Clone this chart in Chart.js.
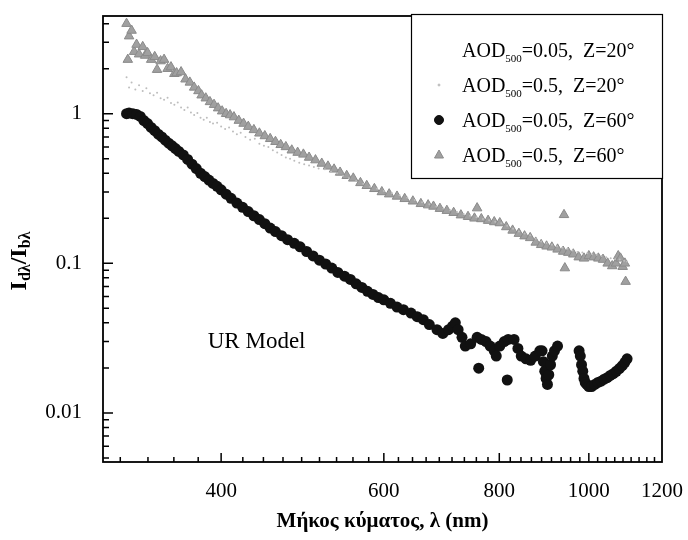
<!DOCTYPE html>
<html>
<head>
<meta charset="utf-8">
<script src="https://cdn.jsdelivr.net/npm/chart.js@4.4.1/dist/chart.umd.min.js"></script>
<style>
  html, body { margin: 0; padding: 0; background: #fff; }
  #wrap { width: 688px; height: 540px; }
</style>
</head>
<body>
<div id="wrap"><canvas id="chart" width="688" height="540"></canvas></div>
<script>
// wavelength (nm) / Idλ/Ibλ pairs

// AOD500=0.05, Z=20° (drawn white in the original, so not visible)
const wlClear  = [316, 350, 400, 450, 500, 600, 700, 800, 900, 1000, 1100];
const valClear = [0.55, 0.40, 0.25, 0.16, 0.11, 0.06, 0.038, 0.027, 0.02, 0.016, 0.014];

// AOD500=0.5, Z=20° (light grey dots)
const wlDots = [316, 318, 320, 323, 326, 329, 332, 335, 338, 341, 344, 347, 350, 353, 356, 359, 362, 365, 368, 371,
  374, 377, 380, 383, 386, 389, 392, 396, 400, 404, 408, 412, 416, 420, 425, 430, 435, 440, 445, 450,
  455, 460, 465, 470, 475, 480, 486, 492, 498, 504, 510, 518, 526, 534, 542, 550, 560, 570, 580, 590,
  600, 612, 624, 636, 648, 660, 672, 684, 696, 708, 720, 732, 744, 756, 768, 780, 792, 804, 816, 828,
  840, 852, 864, 876, 888, 900, 912, 924, 936, 948, 960, 972, 984, 996, 1008, 1020, 1032, 1044, 1056, 1068,
  1080, 1092, 1100];
const valDots = [1.75, 1.5, 1.62, 1.45, 1.55, 1.42, 1.48, 1.37, 1.33, 1.38, 1.27, 1.24, 1.28, 1.18, 1.15, 1.19, 1.1, 1.06, 1.1, 1.02,
  0.98, 1.01, 0.94, 0.91, 0.94, 0.88, 0.86, 0.87, 0.82, 0.79, 0.81, 0.76, 0.73, 0.745, 0.7, 0.67, 0.68, 0.63, 0.61, 0.6,
  0.57, 0.55, 0.53, 0.51, 0.5, 0.485, 0.47, 0.46, 0.45, 0.44, 0.43, 0.425, 0.41, 0.4, 0.385, 0.37, 0.355, 0.34, 0.325, 0.315,
  0.305, 0.295, 0.285, 0.275, 0.265, 0.256, 0.248, 0.24, 0.233, 0.226, 0.22, 0.214, 0.208, 0.203, 0.198, 0.194, 0.19, 0.185, 0.178, 0.17,
  0.163, 0.158, 0.154, 0.146, 0.14, 0.137, 0.133, 0.13, 0.127, 0.125, 0.122, 0.119, 0.118, 0.117, 0.115, 0.114, 0.112, 0.11, 0.108, 0.107,
  0.106, 0.104, 0.103];

// AOD500=0.05, Z=60° (black circles)
const wlCircles = [316, 318, 321, 324, 327, 330, 333, 336, 339, 342, 345, 348, 351, 354, 357, 360, 364, 368, 372, 376,
  380, 384, 388, 392, 396, 400, 405, 410, 416, 422, 428, 434, 440, 446, 452, 458, 465, 472, 480, 487,
  495, 503, 511, 519, 527, 535, 544, 552, 560, 568, 576, 584, 592, 600, 610, 620, 630, 642, 652, 662,
  672, 685, 695, 705, 712, 717, 722, 729, 735, 745, 757, 760, 765, 774, 782, 790, 794, 801, 810, 816,
  818, 830, 838, 845, 855, 865, 875, 885, 890, 893, 896, 899, 902, 905, 909, 913, 918, 925, 976, 979,
  982, 985, 988, 991, 995, 1000, 1007, 1015, 1023, 1031, 1039, 1047, 1055, 1063, 1071, 1079, 1087, 1094, 1100];
const valCircles = [1.0, 1.01, 1.0, 0.99, 0.96, 0.9, 0.86, 0.81, 0.77, 0.73, 0.70, 0.665, 0.635, 0.61, 0.585, 0.56, 0.53, 0.495, 0.46, 0.43,
  0.40, 0.38, 0.36, 0.342, 0.327, 0.31, 0.29, 0.272, 0.253, 0.237, 0.222, 0.208, 0.196, 0.184, 0.172, 0.163, 0.153, 0.144, 0.136, 0.129,
  0.12, 0.112, 0.105, 0.099, 0.093, 0.087, 0.082, 0.078, 0.073, 0.069, 0.065, 0.062, 0.059, 0.057, 0.054, 0.051, 0.049, 0.0465, 0.044, 0.042,
  0.039, 0.036, 0.034, 0.036, 0.038, 0.040, 0.036, 0.032, 0.028, 0.029, 0.032, 0.0199, 0.031, 0.030, 0.028, 0.026, 0.024, 0.028, 0.030, 0.0166,
  0.031, 0.031, 0.027, 0.024, 0.023, 0.0225, 0.024, 0.026, 0.026, 0.022, 0.019, 0.017, 0.0155, 0.018, 0.021, 0.024, 0.026, 0.028, 0.026, 0.024,
  0.021, 0.019, 0.017, 0.016, 0.0155, 0.015, 0.015, 0.0155, 0.016, 0.0163, 0.0168, 0.0172, 0.0178, 0.0183, 0.019, 0.0198, 0.0207, 0.0218, 0.023];

// AOD500=0.5, Z=60° (grey triangles)
const wlTriangles = [316, 318, 317, 320, 322, 324, 326, 329, 331, 333, 336, 339, 341, 344, 347, 350, 353, 356, 358, 362,
  366, 370, 374, 378, 381, 385, 389, 393, 397, 401, 405, 409, 413, 418, 423, 428, 434, 440, 446, 452,
  458, 464, 470, 477, 484, 491, 498, 506, 514, 522, 530, 538, 547, 556, 566, 575, 586, 597, 608, 620,
  632, 645, 658, 670, 679, 690, 702, 714, 727, 740, 752, 757, 765, 778, 790, 801, 814, 827, 840, 852,
  864, 876, 888, 900, 912, 925, 938, 940, 942, 950, 962, 975, 988, 1000, 1012, 1024, 1036, 1048, 1060, 1070,
  1076, 1082, 1088, 1094, 1096];
const valTriangles = [4.0, 3.3, 2.3, 3.6, 2.6, 2.9, 2.5, 2.8, 2.45, 2.55, 2.3, 2.4, 1.97, 2.25, 2.3, 2.0, 2.05, 1.85, 1.87, 1.9,
  1.7, 1.62, 1.5, 1.42, 1.33, 1.27, 1.2, 1.15, 1.09, 1.04, 1.0, 0.98, 0.95, 0.9, 0.86, 0.82, 0.78, 0.74, 0.71, 0.68,
  0.65, 0.62, 0.6, 0.57, 0.55, 0.535, 0.51, 0.49, 0.465, 0.445, 0.425, 0.405, 0.385, 0.37, 0.345, 0.33, 0.315, 0.30, 0.29, 0.28,
  0.27, 0.26, 0.25, 0.245, 0.24, 0.232, 0.225, 0.218, 0.21, 0.205, 0.2, 0.234, 0.198, 0.193, 0.189, 0.186, 0.175, 0.166, 0.158, 0.152,
  0.148, 0.138, 0.133, 0.13, 0.128, 0.124, 0.12, 0.211, 0.093, 0.118, 0.115, 0.11, 0.108, 0.112, 0.11, 0.108, 0.106, 0.1, 0.096, 0.1,
  0.112, 0.108, 0.095, 0.1, 0.0755];

// axes
const xRange = [298, 1200];
const yRange = [0.0047, 4.5];
const xMajorTicks = [400, 600, 800, 1000, 1200];
const xMinorSplit = 9;            // 8 minor ticks between labelled ticks
const yMajorTicks = [0.01, 0.1, 1];
const yMinorMults = [2, 3, 4, 5, 6, 7, 8, 9];

// legend text pieces: main, subscript, rest
const legendText = [
  ['AOD', '500', '=0.05,  Z=20°'],
  ['AOD', '500', '=0.5,  Z=20°'],
  ['AOD', '500', '=0.05,  Z=60°'],
  ['AOD', '500', '=0.5,  Z=60°']
];
const noteText = { text: 'UR Model', x: 437, y: 0.0299 };

const SERIF = "'Liberation Serif', 'Times New Roman', serif";

function pairs(xs, ys) {
  return xs.map((x, i) => ({ x: x, y: ys[i] }));
}

function buildXTicks() {
  const step = (xMajorTicks[1] - xMajorTicks[0]) / xMinorSplit;
  const out = [];
  for (let i = -xMinorSplit; i <= (xMajorTicks.length - 1) * xMinorSplit; i++) {
    const v = xMajorTicks[0] + i * step;
    if (v < xRange[0] || v > xRange[1]) continue;
    out.push({ value: v, major: i % xMinorSplit === 0 && i >= 0 });
  }
  return out;
}

function buildYTicks() {
  const out = [];
  [0.001].concat(yMajorTicks).forEach(dec => {
    [1].concat(yMinorMults).forEach(m => {
      const v = parseFloat((m * dec).toPrecision(3));
      if (v < yRange[0] || v > yRange[1]) return;
      out.push({ value: v, major: m === 1 && yMajorTicks.indexOf(v) >= 0 });
    });
  });
  return out;
}

const xTickList = buildXTicks();
const yTickList = buildYTicks();

// frame + inward tick marks
const frameTicks = {
  id: 'frameTicks',
  afterDraw(chart) {
    const c = chart.ctx, a = chart.chartArea;
    const sx = chart.scales.x, sy = chart.scales.y;
    c.save();
    c.strokeStyle = '#000';
    c.lineWidth = 1.8;
    c.strokeRect(a.left, a.top, a.right - a.left, a.bottom - a.top);
    c.lineWidth = 1.5;
    c.beginPath();
    xTickList.forEach(t => {
      const px = sx.getPixelForValue(t.value);
      if (px < a.left + 2 || px > a.right - 2) return;
      c.moveTo(px, a.bottom);
      c.lineTo(px, a.bottom - (t.major ? 9 : 5));
    });
    c.stroke();
    c.beginPath();
    yTickList.forEach(t => {
      const py = sy.getPixelForValue(t.value);
      if (py < a.top + 2 || py > a.bottom - 2) return;
      c.moveTo(a.left, py);
      c.lineTo(a.left + (t.major ? 10 : 6), py);
    });
    c.stroke();
    c.restore();
  }
};

// y title with subscripts, legend box, "UR Model" note
const extras = {
  id: 'extras',
  afterDraw(chart) {
    const c = chart.ctx, a = chart.chartArea;
    const sx = chart.scales.x, sy = chart.scales.y;
    c.save();
    c.fillStyle = '#000';

    // y axis title  I_dλ / I_bλ
    const big = 'bold 24px ' + SERIF, small = 'bold 16px ' + SERIF;
    const parts = [['I', big, 0], ['dλ', small, 6], ['/', big, 0], ['I', big, 0], ['bλ', small, 6]];
    let w = 0;
    parts.forEach(p => { c.font = p[1]; w += c.measureText(p[0]).width; });
    c.translate(20, (a.top + a.bottom) / 2 + 22);
    c.rotate(-Math.PI / 2);
    c.textBaseline = 'middle';
    let cx = -w / 2;
    parts.forEach(p => {
      c.font = p[1];
      c.fillText(p[0], cx, p[2]);
      cx += c.measureText(p[0]).width;
    });
    c.setTransform(1, 0, 0, 1, 0, 0);

    // note
    c.font = '23px ' + SERIF;
    c.textAlign = 'center';
    c.fillText(noteText.text, sx.getPixelForValue(noteText.x), sy.getPixelForValue(noteText.y));
    c.textAlign = 'left';

    // legend
    const bx = a.right - 251, by = a.top - 2, bw = 251, bh = 164;
    c.fillStyle = '#fff';
    c.fillRect(bx, by, bw, bh);
    c.strokeStyle = '#000';
    c.lineWidth = 1.2;
    c.strokeRect(bx + 0.5, by + 0.5, bw, bh);
    const ds = chart.data.datasets;
    legendText.forEach((t, i) => {
      const ry = by + 36 + i * 35;
      const d = ds[i];
      const mx = bx + 28;
      c.fillStyle = d.backgroundColor;
      c.strokeStyle = d.borderColor;
      c.lineWidth = 1;
      c.beginPath();
      if (d.pointStyle === 'triangle') {
        c.moveTo(mx, ry - 5); c.lineTo(mx + 4.5, ry + 3); c.lineTo(mx - 4.5, ry + 3); c.closePath();
      } else {
        c.arc(mx, ry, Math.min(d.pointRadius, 4.5), 0, Math.PI * 2);
      }
      c.fill();
      c.stroke();
      c.fillStyle = '#000';
      c.textBaseline = 'alphabetic';
      let tx = bx + 51;
      c.font = '20px ' + SERIF;
      c.fillText(t[0], tx, ry + 7);
      tx += c.measureText(t[0]).width;
      c.font = '11px ' + SERIF;
      c.fillText(t[1], tx, ry + 12);
      tx += c.measureText(t[1]).width;
      c.font = '20px ' + SERIF;
      c.fillText(t[2], tx, ry + 7);
    });
    c.restore();
  }
};

const chart = new Chart(document.getElementById('chart'), {
  type: 'scatter',
  data: {
    datasets: [
      {
        label: 'AOD₅₀₀=0.05, Z=20°',
        data: pairs(wlClear, valClear),
        pointStyle: 'circle',
        pointRadius: 1.5,
        backgroundColor: '#ffffff',
        borderColor: '#ffffff',
        borderWidth: 0,
        order: 4
      },
      {
        label: 'AOD₅₀₀=0.5, Z=20°',
        data: pairs(wlDots, valDots),
        pointStyle: 'circle',
        pointRadius: 1,
        backgroundColor: '#bdbdbd',
        borderColor: '#bdbdbd',
        borderWidth: 0,
        order: 2
      },
      {
        label: 'AOD₅₀₀=0.05, Z=60°',
        data: pairs(wlCircles, valCircles),
        pointStyle: 'circle',
        pointRadius: 5.5,
        backgroundColor: '#111111',
        borderColor: '#111111',
        borderWidth: 0,
        order: 1
      },
      {
        label: 'AOD₅₀₀=0.5, Z=60°',
        data: pairs(wlTriangles, valTriangles),
        pointStyle: 'triangle',
        pointRadius: 5.5,
        backgroundColor: '#a0a0a0',
        borderColor: '#8a8a8a',
        borderWidth: 1,
        order: 3
      }
    ]
  },
  options: {
    responsive: false,
    animation: false,
    layout: { padding: { left: 0, top: 16, right: 26, bottom: 0 } },
    plugins: {
      legend: { display: false },
      tooltip: { enabled: false }
    },
    scales: {
      x: {
        type: 'logarithmic',
        min: xRange[0],
        max: xRange[1],
        afterBuildTicks: axis => { axis.ticks = xTickList.map(t => ({ value: t.value, major: t.major })); },
        afterFit: axis => { axis.height = 78; axis.paddingLeft = 0; axis.paddingRight = 0; },
        grid: { display: false },
        border: { display: false },
        ticks: {
          autoSkip: false,
          maxRotation: 0,
          padding: 9,
          color: '#000',
          font: { family: SERIF, size: 21 },
          callback: (v, i, ticks) => (ticks[i].major ? String(v) : '')
        },
        title: {
          display: true,
          text: 'Μήκος κύματος, λ (nm)',
          color: '#000',
          font: { family: SERIF, size: 21, weight: 'bold' },
          padding: { top: 0, bottom: 6 }
        }
      },
      y: {
        type: 'logarithmic',
        min: yRange[0],
        max: yRange[1],
        afterBuildTicks: axis => { axis.ticks = yTickList.map(t => ({ value: t.value, major: t.major })); },
        afterFit: axis => { axis.width = 103; axis.paddingTop = 0; axis.paddingBottom = 0; },
        grid: { display: false },
        border: { display: false },
        ticks: {
          autoSkip: false,
          padding: 13,
          color: '#000',
          font: { family: SERIF, size: 21 },
          callback: (v, i, ticks) => (ticks[i].major ? String(v) : '')
        }
      }
    }
  },
  plugins: [frameTicks, extras]
});
</script>
</body>
</html>
